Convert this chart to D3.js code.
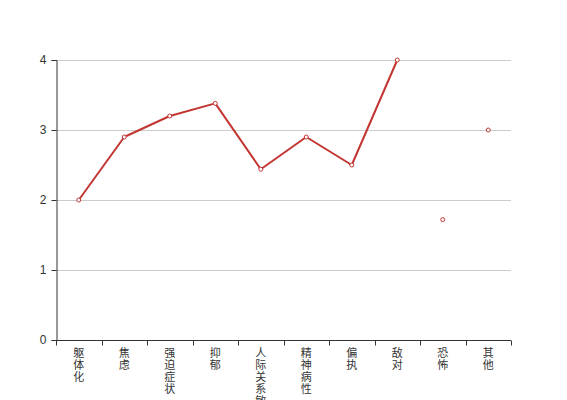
<!DOCTYPE html>
<html><head><meta charset="utf-8">
<script src="https://cdn.jsdelivr.net/npm/d3@7/dist/d3.min.js"></script>
<style>body{margin:0;background:#fff}svg{display:block}</style>
</head><body>
<svg id="c" width="567" height="400"></svg>
<script>
const categories = ["躯体化","焦虑","强迫症状","抑郁","人际关系敏感","精神病性","偏执","敌对","恐怖","其他"];
const values = [2.0, 2.9, 3.2, 3.38, 2.44, 2.9, 2.5, 4.0, 1.72, 3.0];
const joined = [true, true, true, true, true, true, true, true, false, false];
const yTicks = [0, 1, 2, 3, 4];

const svg = d3.select("#c");
const m = {l:56, r:56, t:60, b:60};
const W = 567, H = 400;
const x = d3.scaleBand().domain(categories).range([m.l, W - m.r]);
const y = d3.scaleLinear().domain([0, 4]).range([H - m.b, m.t]);
const font = "'Liberation Sans', 'Noto Sans CJK SC', sans-serif";

// gridlines
svg.append("g").selectAll("line").data(yTicks.filter(d => d > 0)).join("line")
  .attr("x1", m.l).attr("x2", W - m.r)
  .attr("y1", d => y(d) + 0.5).attr("y2", d => y(d) + 0.5)
  .attr("stroke", "#ccc").attr("stroke-width", 1);

// y axis
const ya = svg.append("g").attr("transform", `translate(${m.l + 0.5},0)`)
  .call(d3.axisLeft(y).tickValues(yTicks).tickSize(5).tickPadding(5).tickFormat(d3.format("d")));
ya.select(".domain").attr("stroke", "#333");
ya.selectAll(".tick line").attr("stroke", "#333");
ya.selectAll(".tick text").attr("fill", "#333").style("font-family", font).style("font-size", "12px");

// x axis
const xa = svg.append("g").attr("transform", `translate(0,${H - m.b + 0.5})`)
  .call(d3.axisBottom(x).tickSize(0).tickFormat(""));
xa.select(".domain").attr("stroke", "#333").attr("d", `M${m.l},0H${W - m.r}`);
const bounds = categories.map(c => x(c)).concat([x(categories[categories.length - 1]) + x.bandwidth()]);
xa.selectAll(".bt").data(bounds).join("line").attr("class", "bt")
  .attr("x1", d => Math.round(d) + 0.5).attr("x2", d => Math.round(d) + 0.5)
  .attr("y1", 0).attr("y2", 5).attr("stroke", "#333");
const labels = svg.append("g").selectAll("text").data(categories).join("text")
  .attr("x", d => x(d) + x.bandwidth() / 2)
  .attr("y", H - m.b + 17)
  .attr("text-anchor", "middle")
  .attr("fill", "#333")
  .style("font-family", font).style("font-size", "11px");
labels.each(function(d) {
  const t = d3.select(this);
  Array.from(d).forEach((ch, i) => {
    t.append("tspan").attr("x", x(d) + x.bandwidth() / 2).attr("dy", i === 0 ? 0 : 12).text(ch);
  });
});

// line
const pts = categories.map((c, i) => ({c, v: values[i], j: joined[i]}));
const line = d3.line().defined(d => d.j)
  .x(d => x(d.c) + x.bandwidth() / 2).y(d => y(d.v));
svg.append("path").datum(pts).attr("d", line)
  .attr("fill", "none").attr("stroke", "#c23531").attr("stroke-width", 2).attr("stroke-linejoin", "round");

svg.append("g").selectAll("circle").data(pts).join("circle")
  .attr("cx", d => x(d.c) + x.bandwidth() / 2).attr("cy", d => y(d.v))
  .attr("r", 2).attr("fill", "#fff").attr("stroke", "#c23531").attr("stroke-width", 1);
</script>
</body></html>
